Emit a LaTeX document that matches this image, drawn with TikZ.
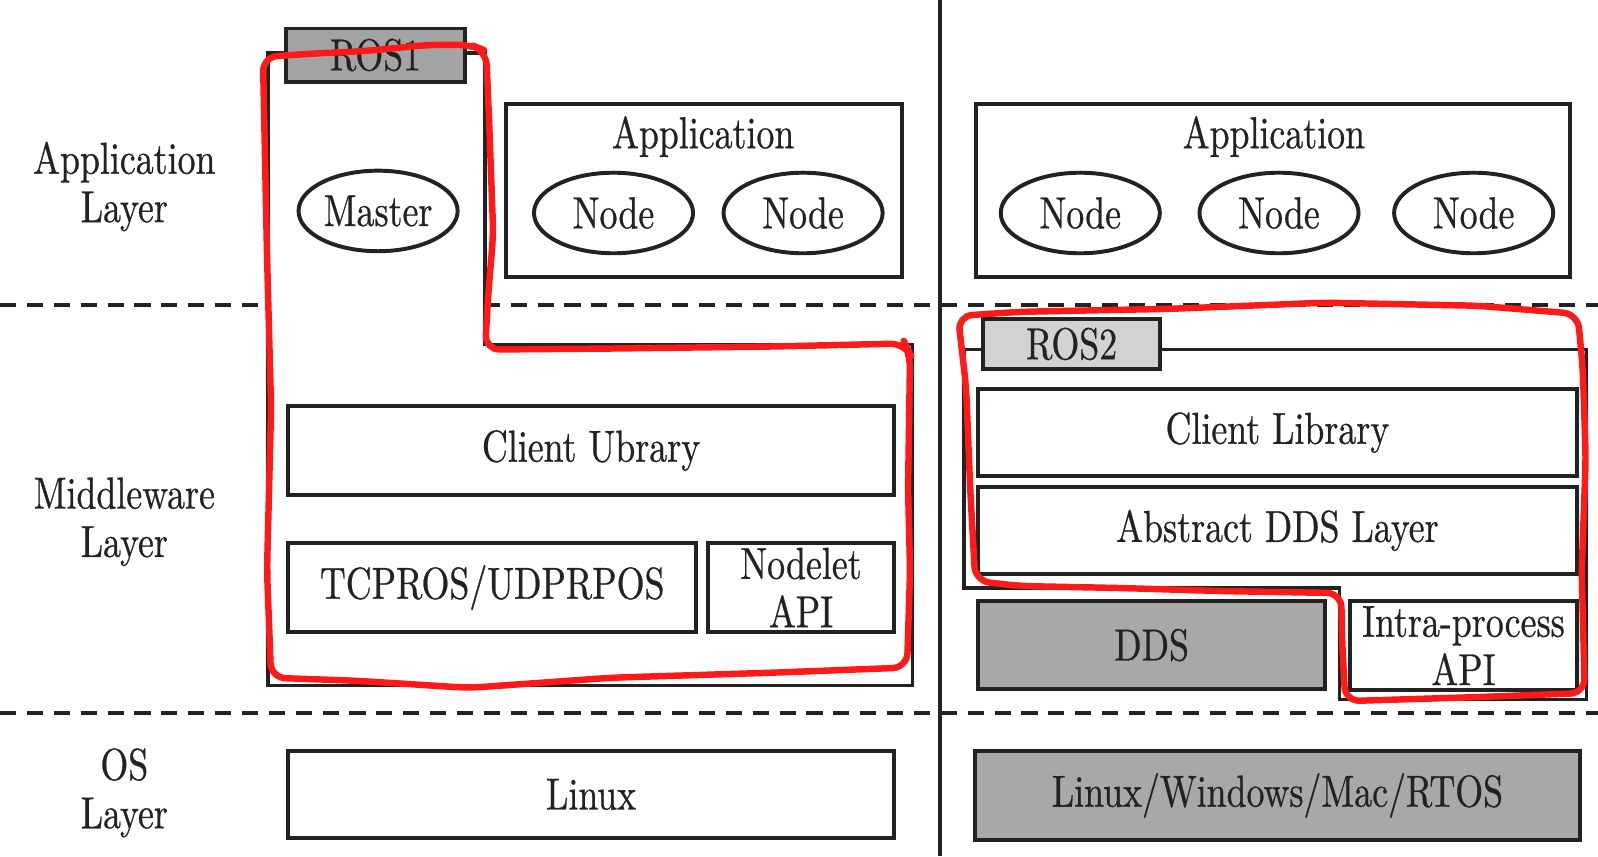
\documentclass[tikz,border=0pt]{standalone}
\usepackage{fontspec}
\setmainfont{lmroman10-regular.otf}[FakeStretch=0.8, FakeBold=0.6]
\usetikzlibrary{shapes.geometric}
\definecolor{ink}{HTML}{222222}
\definecolor{tabdark}{HTML}{A3A3A3}
\definecolor{tablight}{HTML}{D2D2D2}
\definecolor{fillgray}{HTML}{A8A8A8}
\definecolor{mark}{HTML}{FF1A1A}
\tikzset{
  txt/.style={font=\fontsize{12.5}{13.5}\selectfont, text=ink, align=center, inner sep=0pt},
  box/.style={txt, draw=ink, line width=1.1pt, rectangle},
  oval/.style={txt, draw=ink, line width=1.1pt, ellipse, minimum width=1.56cm, minimum height=0.79cm},
  outline/.style={draw=ink, line width=0.9pt},
  sep/.style={draw=ink, line width=1.1pt, dash pattern=on 4.5pt off 3pt},
  redmark/.style={draw=mark, line width=1.8pt, line join=round, line cap=round, rounded corners=4pt}
}
\begin{document}
\begin{tikzpicture}[x=0.01cm, y=-0.01cm]
\useasboundingbox[fill=white] (0,0) rectangle (1568,840);

% separators
\coordinate (vtop) at (922,0);
\coordinate (vbot) at (922,840);
\draw[ink, line width=1.1pt] (vtop) -- (vbot);
\coordinate (d1l) at (0,299); \coordinate (d1r) at (1568,299);
\coordinate (d2l) at (0,700); \coordinate (d2r) at (1568,700);
\draw[sep] (d1l) -- (d1r);
\draw[sep] (d2l) -- (d2r);

% layer labels
\node[txt] (lapp) at (122,183) {Application\\Layer};
\node[txt] (lmid) at (122,512) {Middleware\\Layer};
\node[txt] (los) at (122,778) {OS\\Layer};

% ---------- ROS1 ----------
\draw[outline, fill=white] (263,52) -- (476,52) -- (476,338) -- (895,338) -- (895,673) -- (263,673) -- cycle;
\node[box, fill=tabdark, minimum width=1.75cm, minimum height=0.52cm] (ros1) at (368.5,54) {ROS1};
\node[box, fill=white, minimum width=3.88cm, minimum height=1.70cm] (app1) at (691,187) {};
\node[txt] (app1t) at (690,134) {Application};
\node[oval] (master) at (371,207) {Master};
\node[oval] (n1a) at (602,209) {Node};
\node[oval] (n1b) at (788,209) {Node};
\node[box, minimum width=5.94cm, minimum height=0.88cm] (cl1) at (580,442) {Client Ubrary};
\node[box, minimum width=4.00cm, minimum height=0.87cm] (tcp) at (483,576.5) {TCPROS/UDPRPOS};
\node[box, minimum width=1.82cm, minimum height=0.87cm] (nodelet) at (786,576.5) {Nodelet\\API};
\node[box, minimum width=5.94cm, minimum height=0.85cm] (linux) at (580,779.5) {Linux};

% ---------- ROS2 ----------
\node[box, minimum width=5.82cm, minimum height=1.70cm] (app2) at (1249,187) {};
\node[txt] (app2t) at (1250,134) {Application};
\node[oval] (n2a) at (1060,209) {Node};
\node[oval] (n2b) at (1255,209) {Node};
\node[oval] (n2c) at (1446,209) {Node};
\draw[outline] (946,343) -- (1557,343) -- (1557,686) -- (1314,686) -- (1314,577) -- (946,577) -- cycle;
\node[box, fill=tablight, minimum width=1.73cm, minimum height=0.49cm] (ros2) at (1051.5,337.5) {ROS2};
\node[box, fill=white, minimum width=5.87cm, minimum height=0.85cm] (cl2) at (1253.5,424.5) {Client Library};
\node[box, fill=white, minimum width=5.87cm, minimum height=0.85cm] (adds) at (1253.5,520.5) {Abstract DDS Layer};
\node[box, fill=fillgray, minimum width=3.40cm, minimum height=0.86cm] (dds) at (1130,633) {DDS};
\node[box, fill=white, minimum width=2.22cm, minimum height=0.87cm] (intra) at (1436,633.5) {Intra-process\\API};
\node[box, fill=fillgray, minimum width=5.93cm, minimum height=0.87cm] (os2) at (1253.5,780.5) {Linux/Windows/Mac/RTOS};

% ---------- red hand-drawn marks ----------
\draw[redmark] (258,56) -- (300,53) -- (360,50) -- (420,44) -- (462,44) -- (477,50) -- (480,120) -- (484,230) -- (479,290) -- (476,343) -- (600,342) -- (760,340) -- (888,337) -- (893,347) -- (891,480) -- (893,560) -- (890,655) -- (760,660) -- (600,665) -- (460,675) -- (350,668) -- (266,665) -- (262,560) -- (266,400) -- (262,250) -- cycle;
\draw[redmark] (940,310) -- (1000,306) -- (1150,303) -- (1300,297) -- (1450,300) -- (1548,308) -- (1553,360) -- (1556,450) -- (1552,560) -- (1555,680) -- (1450,684) -- (1320,688) -- (1317,630) -- (1316,582) -- (1200,580) -- (1100,577) -- (1000,575) -- (957,570) -- (952,480) -- (948,380) -- cycle;
\end{tikzpicture}
\end{document}
